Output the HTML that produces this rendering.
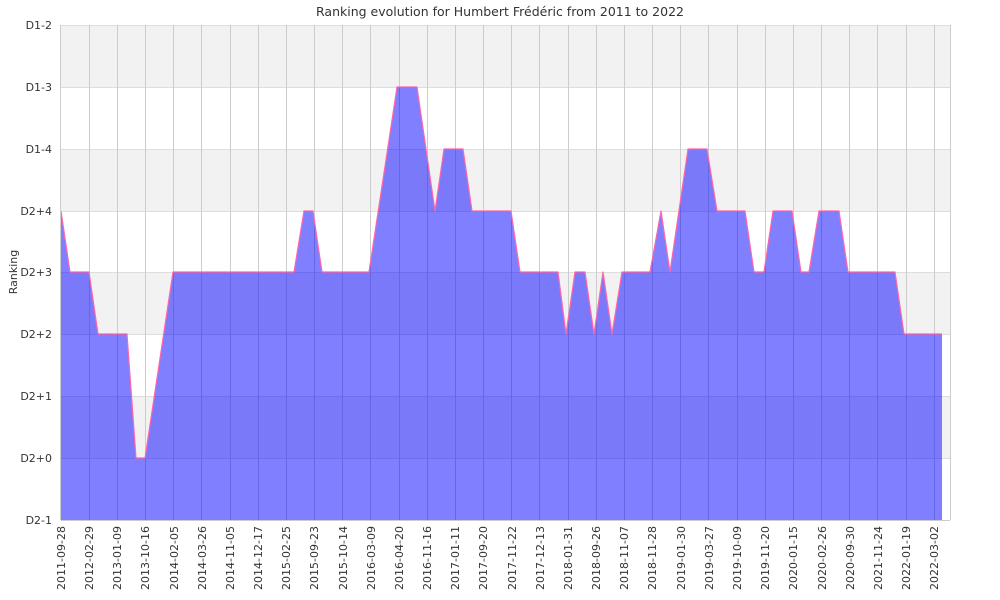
<!DOCTYPE html>
<html><head><meta charset="utf-8"><style>body{margin:0;background:#fff}svg{display:block}text{font-family:"DejaVu Sans","Liberation Sans",sans-serif;fill:#333}</style></head><body>
<svg width="1000" height="600" viewBox="0 0 1000 600">
<rect width="1000" height="600" fill="#fff"/>
<g fill="#f2f2f2">
<rect x="61" y="25" width="889" height="62"/>
<rect x="61" y="149" width="889" height="62"/>
<rect x="61" y="272" width="889" height="62"/>
<rect x="61" y="396" width="889" height="62"/>
</g>
<g stroke="#ddd" stroke-width="1">
<line x1="61" x2="950" y1="25.5" y2="25.5"/><line x1="61" x2="950" y1="87.5" y2="87.5"/><line x1="61" x2="950" y1="149.5" y2="149.5"/><line x1="61" x2="950" y1="211.5" y2="211.5"/><line x1="61" x2="950" y1="272.5" y2="272.5"/><line x1="61" x2="950" y1="334.5" y2="334.5"/><line x1="61" x2="950" y1="396.5" y2="396.5"/><line x1="61" x2="950" y1="458.5" y2="458.5"/>
</g>
<g stroke="#ccc" stroke-width="1">
<line x1="89.5" x2="89.5" y1="25" y2="520"/><line x1="117.5" x2="117.5" y1="25" y2="520"/><line x1="145.5" x2="145.5" y1="25" y2="520"/><line x1="173.5" x2="173.5" y1="25" y2="520"/><line x1="201.5" x2="201.5" y1="25" y2="520"/><line x1="230.5" x2="230.5" y1="25" y2="520"/><line x1="258.5" x2="258.5" y1="25" y2="520"/><line x1="286.5" x2="286.5" y1="25" y2="520"/><line x1="314.5" x2="314.5" y1="25" y2="520"/><line x1="342.5" x2="342.5" y1="25" y2="520"/><line x1="370.5" x2="370.5" y1="25" y2="520"/><line x1="399.5" x2="399.5" y1="25" y2="520"/><line x1="427.5" x2="427.5" y1="25" y2="520"/><line x1="455.5" x2="455.5" y1="25" y2="520"/><line x1="483.5" x2="483.5" y1="25" y2="520"/><line x1="511.5" x2="511.5" y1="25" y2="520"/><line x1="539.5" x2="539.5" y1="25" y2="520"/><line x1="568.5" x2="568.5" y1="25" y2="520"/><line x1="596.5" x2="596.5" y1="25" y2="520"/><line x1="624.5" x2="624.5" y1="25" y2="520"/><line x1="652.5" x2="652.5" y1="25" y2="520"/><line x1="680.5" x2="680.5" y1="25" y2="520"/><line x1="708.5" x2="708.5" y1="25" y2="520"/><line x1="737.5" x2="737.5" y1="25" y2="520"/><line x1="765.5" x2="765.5" y1="25" y2="520"/><line x1="793.5" x2="793.5" y1="25" y2="520"/><line x1="821.5" x2="821.5" y1="25" y2="520"/><line x1="849.5" x2="849.5" y1="25" y2="520"/><line x1="877.5" x2="877.5" y1="25" y2="520"/><line x1="906.5" x2="906.5" y1="25" y2="520"/><line x1="934.5" x2="934.5" y1="25" y2="520"/>
<line x1="950.5" x2="950.5" y1="25" y2="520"/>
</g>
<polygon fill="rgba(0,0,255,0.5)" points="61,520 61,211 70,272 89,272 98,334 127,334 136,458 145,458 173,272 294,272 304,211 313,211 322,272 369,272 397,87 417,87 435,211 444,149 463,149 472,211 511,211 520,272 558,272 566,334 575,272 585,272 594,334 603,272 612,334 622,272 650,272 661,211 670,272 688,149 707,149 717,211 745,211 754,272 764,272 773,211 792,211 801,272 809,272 819,211 839,211 848,272 895,272 904,334 942,334 942,520"/>
<polyline fill="none" stroke="#ff66aa" stroke-width="1.2" stroke-linejoin="round" points="61,211 70,272 89,272 98,334 127,334 136,458 145,458 173,272 294,272 304,211 313,211 322,272 369,272 397,87 417,87 435,211 444,149 463,149 472,211 511,211 520,272 558,272 566,334 575,272 585,272 594,334 603,272 612,334 622,272 650,272 661,211 670,272 688,149 707,149 717,211 745,211 754,272 764,272 773,211 792,211 801,272 809,272 819,211 839,211 848,272 895,272 904,334 942,334"/>
<line x1="60.5" x2="60.5" y1="25" y2="520" stroke="#ccc"/>
<line x1="61" x2="950" y1="520.5" y2="520.5" stroke="#ccc"/>
<text x="500" y="16" font-size="12.5" text-anchor="middle">Ranking evolution for Humbert Frédéric from 2011 to 2022</text>
<text transform="translate(17,272) rotate(-90)" font-size="11" text-anchor="middle">Ranking</text>
<g font-size="11" text-anchor="end">
<text x="52" y="29">D1-2</text><text x="52" y="91">D1-3</text><text x="52" y="153">D1-4</text><text x="52" y="215">D2+4</text><text x="52" y="276">D2+3</text><text x="52" y="338">D2+2</text><text x="52" y="400">D2+1</text><text x="52" y="462">D2+0</text><text x="52" y="524">D2-1</text>
</g>
<g font-size="11" text-anchor="end">
<text transform="translate(65,526) rotate(-90)">2011-09-28</text>
<text transform="translate(93,526) rotate(-90)">2012-02-29</text>
<text transform="translate(121,526) rotate(-90)">2013-01-09</text>
<text transform="translate(149,526) rotate(-90)">2013-10-16</text>
<text transform="translate(178,526) rotate(-90)">2014-02-05</text>
<text transform="translate(206,526) rotate(-90)">2014-03-26</text>
<text transform="translate(234,526) rotate(-90)">2014-11-05</text>
<text transform="translate(262,526) rotate(-90)">2014-12-17</text>
<text transform="translate(290,526) rotate(-90)">2015-02-25</text>
<text transform="translate(318,526) rotate(-90)">2015-09-23</text>
<text transform="translate(347,526) rotate(-90)">2015-10-14</text>
<text transform="translate(375,526) rotate(-90)">2016-03-09</text>
<text transform="translate(403,526) rotate(-90)">2016-04-20</text>
<text transform="translate(431,526) rotate(-90)">2016-11-16</text>
<text transform="translate(459,526) rotate(-90)">2017-01-11</text>
<text transform="translate(487,526) rotate(-90)">2017-09-20</text>
<text transform="translate(516,526) rotate(-90)">2017-11-22</text>
<text transform="translate(544,526) rotate(-90)">2017-12-13</text>
<text transform="translate(572,526) rotate(-90)">2018-01-31</text>
<text transform="translate(600,526) rotate(-90)">2018-09-26</text>
<text transform="translate(628,526) rotate(-90)">2018-11-07</text>
<text transform="translate(656,526) rotate(-90)">2018-11-28</text>
<text transform="translate(685,526) rotate(-90)">2019-01-30</text>
<text transform="translate(713,526) rotate(-90)">2019-03-27</text>
<text transform="translate(741,526) rotate(-90)">2019-10-09</text>
<text transform="translate(769,526) rotate(-90)">2019-11-20</text>
<text transform="translate(797,526) rotate(-90)">2020-01-15</text>
<text transform="translate(826,526) rotate(-90)">2020-02-26</text>
<text transform="translate(854,526) rotate(-90)">2020-09-30</text>
<text transform="translate(882,526) rotate(-90)">2021-11-24</text>
<text transform="translate(910,526) rotate(-90)">2022-01-19</text>
<text transform="translate(938,526) rotate(-90)">2022-03-02</text>
</g>
</svg></body></html>
